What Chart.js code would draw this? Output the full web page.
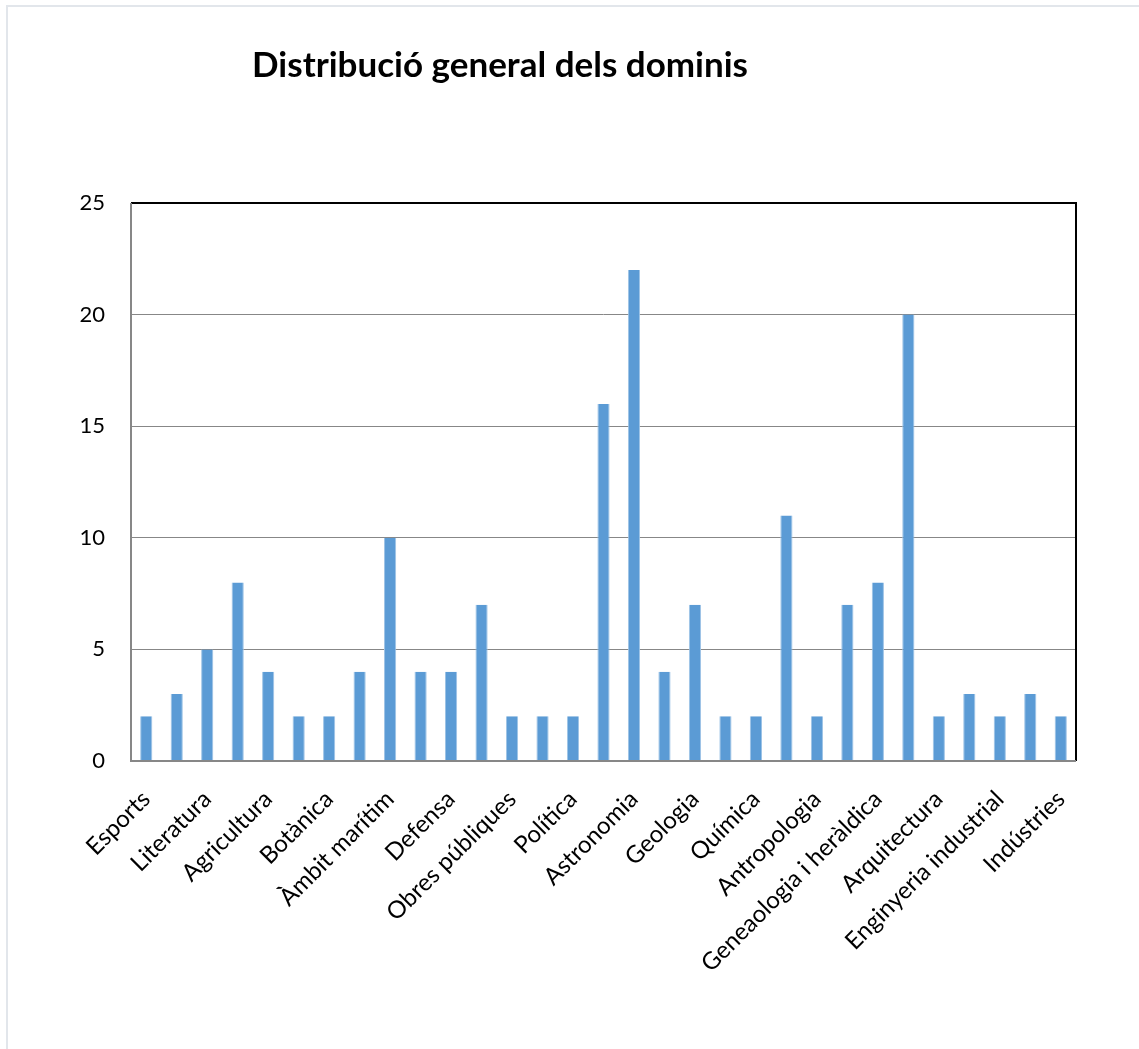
<!DOCTYPE html>
<html>
<head>
<meta charset="utf-8">
<script src="https://cdn.jsdelivr.net/npm/chart.js@4/dist/chart.umd.min.js"></script>
<style>
html,body{margin:0;padding:0;background:#fff;overflow:hidden;}
#wrap{position:relative;width:1139px;height:1049px;}
#frame{position:absolute;left:6px;top:5px;width:1133px;height:1044px;border-left:2px solid #e2e6eb;border-top:2px solid #e2e6eb;box-sizing:border-box;pointer-events:none;}
canvas{position:absolute;left:0;top:0;}
</style>
</head>
<body>
<div id="wrap">
<canvas id="c" width="1139" height="1049"></canvas>
<div id="frame"></div>
</div>
<script>
const chartTitle = "Distribució general dels dominis";
const categories = [
  "Esports", "", "Literatura", "", "Agricultura", "", "Botànica", "",
  "Àmbit marítim", "", "Defensa", "", "Obres públiques", "", "Política", "",
  "Astronomia", "", "Geologia", "", "Química", "", "Antropologia", "",
  "Geneaologia i heràldica", "", "Arquitectura", "", "Enginyeria industrial", "", "Indústries"
];
const values = [2, 3, 5, 8, 4, 2, 2, 4, 10, 4, 4, 7, 2, 2, 2, 16, 22, 4, 7, 2, 2, 11, 2, 7, 8, 20, 2, 3, 2, 3, 2];
const yTicks = [0, 5, 10, 15, 20, 25];

const FONT = "Lato, 'Open Sans', sans-serif";

const titlePlugin = {
  id: 'customTitle',
  afterDraw(chart) {
    const ctx = chart.ctx;
    ctx.save();
    ctx.font = "bold 35px " + FONT;
    ctx.fillStyle = "#000";
    ctx.textAlign = "center";
    ctx.textBaseline = "alphabetic";
    ctx.fillText(chartTitle, 500, 77);
    ctx.restore();
  }
};

const boxPlugin = {
  id: 'plotBox',
  afterDraw(chart) {
    const a = chart.chartArea, ctx = chart.ctx;
    ctx.save();
    ctx.strokeStyle = "#000";
    ctx.lineWidth = 2;
    ctx.beginPath();
    ctx.moveTo(a.left, a.top);
    ctx.lineTo(a.right, a.top);
    ctx.lineTo(a.right, a.bottom);
    ctx.stroke();
    ctx.strokeStyle = "#878787";
    ctx.beginPath();
    ctx.moveTo(a.left, a.top);
    ctx.lineTo(a.left, a.bottom);
    ctx.lineTo(a.right, a.bottom);
    ctx.stroke();
    ctx.restore();
  }
};

new Chart(document.getElementById('c'), {
  type: 'bar',
  data: {
    labels: categories,
    datasets: [{
      data: values,
      backgroundColor: '#5b9bd5',
      borderColor: '#9dc3e6',
      borderWidth: {left: 1, right: 1, top: 0, bottom: 0},
      barPercentage: 0.4,
      categoryPercentage: 1.0
    }]
  },
  options: {
    responsive: false,
    animation: false,
    layout: { padding: { left: 0, top: 203, right: 63, bottom: 0 } },
    plugins: { legend: { display: false }, tooltip: { enabled: false }, title: { display: false } },
    scales: {
      x: {
        grid: { display: false, drawTicks: false },
        border: { display: false },
        ticks: {
          autoSkip: false,
          maxRotation: 45,
          minRotation: 45,
          padding: 24,
          color: '#000',
          font: { family: FONT, size: 24 }
        },
        afterFit(scale) { scale.height = 288; }
      },
      y: {
        min: 0,
        max: 25,
        afterBuildTicks(scale) { scale.ticks = yTicks.map(v => ({ value: v })); },
        grid: { color: '#878787', lineWidth: 1, drawTicks: false },
        border: { display: false },
        ticks: {
          padding: 26,
          color: '#000',
          font: { family: FONT, size: 22 }
        },
        afterFit(scale) { scale.width = 131; }
      }
    }
  },
  plugins: [titlePlugin, boxPlugin]
});
</script>
</body>
</html>
